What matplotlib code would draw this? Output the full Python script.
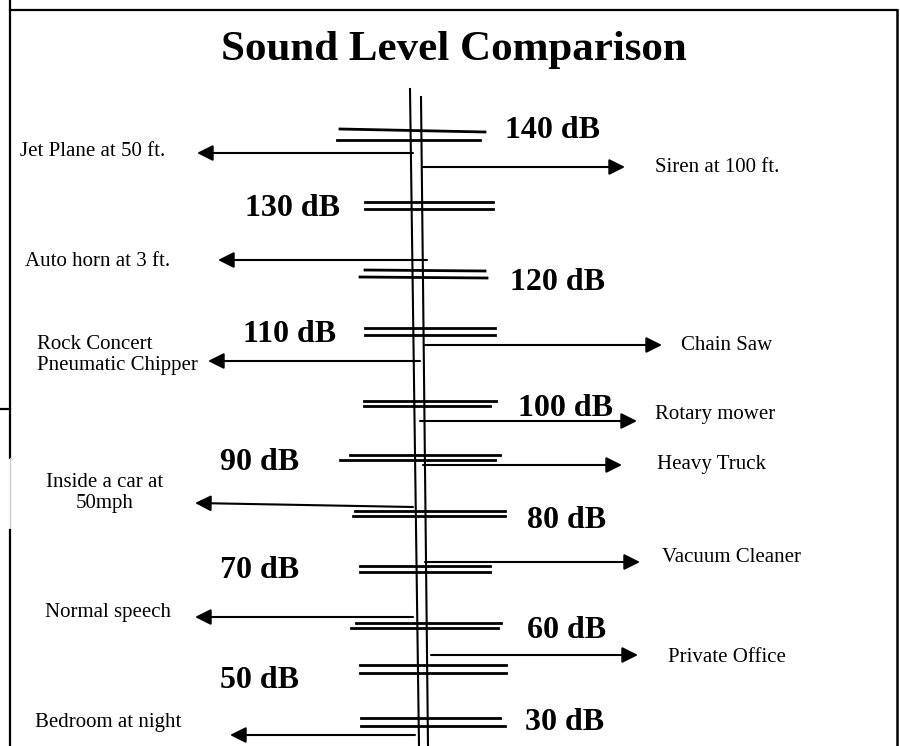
import matplotlib.pyplot as plt

# ====================================================================
# DADOS
# ====================================================================

TITULO = "Sound Level Comparison"

# niveis (rotulo, posicao do rotulo, lado)
niveis = ['140 dB', '130 dB', '120 dB', '110 dB', '100 dB', '90 dB',
          '80 dB', '70 dB', '60 dB', '50 dB', '30 dB']
nivel_x = [505, 245, 510, 243, 518, 220, 527, 220, 527, 220, 525]
nivel_y = [131, 209, 283, 335, 408, 462, 521, 571, 630, 680, 722]

# traços duplos de cada nivel: (x0, x1, y0, y1) para a linha de cima e de baixo
traco_cima = [(340, 485, 129, 132), (365, 493, 202, 202), (365, 485, 270, 271),
              (365, 495, 328, 328), (364, 496, 401, 401), (350, 500, 455, 455),
              (355, 505, 511, 511), (360, 490, 566, 566), (356, 501, 623, 623),
              (360, 506, 665, 665), (361, 500, 718, 718)]
traco_baixo = [(337, 480, 140, 140), (365, 493, 209, 209), (360, 487, 277, 278),
               (365, 495, 335, 335), (364, 490, 406, 406), (340, 495, 460, 460),
               (353, 505, 516, 516), (360, 490, 572, 572), (351, 498, 628, 628),
               (360, 506, 673, 673), (361, 505, 726, 726)]

# fontes sonoras
fontes = ['Jet Plane at 50 ft.', 'Siren at 100 ft.', 'Auto horn at 3 ft.',
          'Chain Saw', 'Rock Concert\nPneumatic Chipper', 'Rotary mower',
          'Heavy Truck', 'Inside a car at\n50mph', 'Vacuum Cleaner',
          'Normal speech', 'Private Office', 'Bedroom at night']
# seta: (x inicio, y inicio, x ponta, y ponta)
setas = [(413, 153, 197, 153), (423, 167, 625, 167), (427, 260, 218, 260),
         (425, 345, 662, 345), (420, 361, 208, 361), (420, 421, 637, 421),
         (423, 465, 622, 465), (413, 507, 195, 503), (425, 562, 640, 562),
         (413, 617, 195, 617), (431, 655, 638, 655), (415, 735, 230, 735)]
fonte_x = [20, 655, 25, 681, 37, 655, 657, 105, 662, 45, 668, 35]
fonte_y = [152, 168, 261, 345, 355, 415, 464, 493, 557, 612, 657, 722]
fonte_ha = ['left', 'left', 'left', 'left', 'left', 'left', 'left', 'center',
            'left', 'left', 'left', 'left']

# ====================================================================
# DESENHO
# ====================================================================

plt.rcParams['font.family'] = ['Liberation Serif', 'DejaVu Serif']

fig = plt.figure(figsize=(9, 7.46), dpi=100)
ax = fig.add_axes([0, 0, 1, 1])
ax.set_xlim(0, 900)
ax.set_ylim(746, 0)
ax.axis('off')

# moldura
ax.plot([10, 897], [10, 10], color='black', lw=1.6)
ax.plot([9.5, 9.5], [0, 458], color='black', lw=1.6)
ax.plot([9.5, 9.5], [458, 530], color='#cccccc', lw=1.0)
ax.plot([9.5, 9.5], [530, 746], color='black', lw=1.6)
ax.plot([0, 10], [409, 409], color='black', lw=1.6)
ax.plot([897, 897], [10, 746], color='black', lw=1.8)

ax.text(454, 50, TITULO, fontsize=31, fontweight='bold', ha='center', va='center')

# eixo vertical duplo
ax.plot([410, 419], [89, 746], color='black', lw=1.5)
ax.plot([421, 428], [97, 746], color='black', lw=1.5)

for rot, x, y, a, b in zip(niveis, nivel_x, nivel_y, traco_cima, traco_baixo):
    ax.plot([a[0], a[1]], [a[2], a[3]], color='black', lw=2)
    ax.plot([b[0], b[1]], [b[2], b[3]], color='black', lw=2)
    ax.text(x, y, rot, fontsize=23, fontweight='bold', ha='left', va='center')

for nome, s, x, y, ha in zip(fontes, setas, fonte_x, fonte_y, fonte_ha):
    ax.annotate('', xy=(s[2], s[3]), xytext=(s[0], s[1]),
                arrowprops=dict(arrowstyle='-|>', color='black', lw=1.5,
                                mutation_scale=24, shrinkA=0, shrinkB=0))
    ax.text(x, y, nome, fontsize=15, ha=ha, va='center',
            multialignment='center' if ha == 'center' else 'left',
            linespacing=1.2)

fig.savefig('out.png', dpi=100)
